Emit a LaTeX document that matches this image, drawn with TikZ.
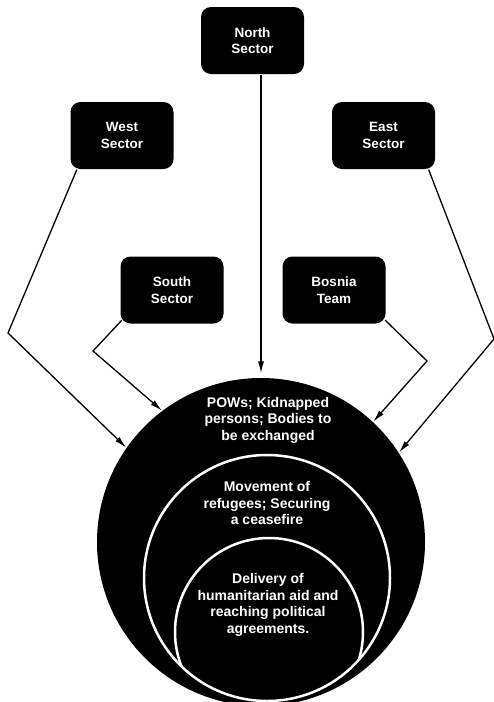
\documentclass[tikz,border=0pt]{standalone}
\usepackage{fontspec}
\setmainfont{Liberation Sans}
\usetikzlibrary{arrows.meta,positioning}

\begin{document}
\begin{tikzpicture}[x=1pt,y=-1pt,>={Latex[length=12pt,width=6pt]},line width=1.3pt,
  sector/.style={draw=none,fill=black,rounded corners=10pt,minimum width=103pt,minimum height=67pt,
    align=center,text=white,font=\fontsize{13.5}{16.5}\selectfont\bfseries},
  ring/.style={circle,draw=white,line width=2.5pt,inner sep=0pt},
  label/.style={align=center,text=white,font=\fontsize{14}{16.5}\selectfont\bfseries}]
\useasboundingbox (0,0) rectangle (494,702);

% the circles
\node[circle,fill=black,inner sep=0pt,minimum size=328pt] (outer) at (261,542) {};
\node[ring,minimum size=246pt] (middle) at (267,578) {};
\begin{scope}
\clip (267,578) circle (123pt);
\node[ring,minimum size=188pt] (inner) at (269,632) {};
\end{scope}

\node[label] (pows) at (268,420) {POWs; Kidnapped\\persons; Bodies to\\be exchanged};
\node[label] (refugees) at (267,503) {Movement of\\refugees; Securing\\a ceasefire};
\node[label] (aid) at (268,605) {Delivery of\\humanitarian aid and\\reaching political\\agreements.};

% the sectors
\node[sector] (north) at (252.5,40.5) {North\\Sector};
\node[sector] (west) at (122,135.5) {West\\Sector};
\node[sector] (east) at (383.5,135.5) {East\\Sector};
\node[sector] (south) at (172,290) {South\\Sector};
\node[sector] (bosnia) at (334,290) {Bosnia\\Team};

\coordinate (wbend) at (8,333);
\coordinate (sbend) at (93,351);
\coordinate (bbend) at (427,361);
\coordinate (ebend) at (494,339);

\draw[->] (north.south -| outer.north) -- ([yshift=4pt]outer.north);
\draw[->] ([xshift=7pt]west.south west) -- (wbend) -- (outer.145);
\draw[->] ([shift={(2pt,4pt)}]south.south west) -- (sbend) -- (outer.127);
\draw[->] ([shift={(-1pt,4pt)}]bosnia.south east) -- (bbend) -- (outer.47);
\draw[->] ([xshift=-7pt]east.south east) -- (ebend) -- (outer.33);

\end{tikzpicture}
\end{document}
